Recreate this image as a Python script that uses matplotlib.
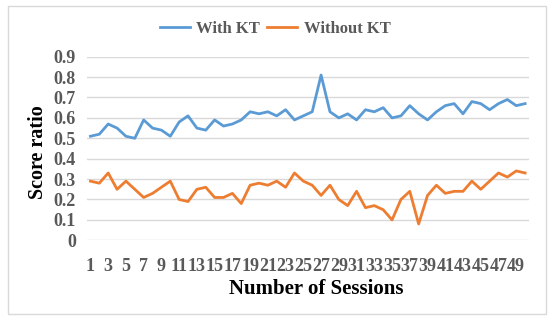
import matplotlib
matplotlib.use("Agg")
import matplotlib.pyplot as plt
from matplotlib.patches import Rectangle

sessions = list(range(1, 51))
with_kt = [0.51, 0.52, 0.57, 0.55, 0.51, 0.50, 0.59, 0.55, 0.54, 0.51,
           0.58, 0.61, 0.55, 0.54, 0.59, 0.56, 0.57, 0.59, 0.63, 0.62,
           0.63, 0.61, 0.64, 0.59, 0.61, 0.63, 0.81, 0.63, 0.60, 0.62,
           0.59, 0.64, 0.63, 0.65, 0.60, 0.61, 0.66, 0.62, 0.59, 0.63,
           0.66, 0.67, 0.62, 0.68, 0.67, 0.64, 0.67, 0.69, 0.66, 0.67]
without_kt = [0.29, 0.28, 0.33, 0.25, 0.29, 0.25, 0.21, 0.23, 0.26, 0.29,
              0.20, 0.19, 0.25, 0.26, 0.21, 0.21, 0.23, 0.18, 0.27, 0.28,
              0.27, 0.29, 0.26, 0.33, 0.29, 0.27, 0.22, 0.27, 0.20, 0.17,
              0.24, 0.16, 0.17, 0.15, 0.10, 0.20, 0.24, 0.08, 0.22, 0.27,
              0.23, 0.24, 0.24, 0.29, 0.25, 0.29, 0.33, 0.31, 0.34, 0.33]
series_names = ["With KT", "Without KT"]
xtick_labels = [str(s) for s in sessions if s % 2 == 1]
yticks = [0, 0.1, 0.2, 0.3, 0.4, 0.5, 0.6, 0.7, 0.8, 0.9]

plt.rcParams['font.family'] = ['Liberation Serif', 'DejaVu Serif']
txt = '#595959'

fig = plt.figure(figsize=(5.5, 3.21), dpi=100)
ax = fig.add_axes([0.158, 0.2514, 0.804, 0.572])

ax.plot(sessions, with_kt, color='#5B9BD5', lw=2.0, label=series_names[0])
ax.plot(sessions, without_kt, color='#ED7D31', lw=2.0, label=series_names[1])

ax.set_xlim(0.6, 50.45)
ax.set_ylim(0, 0.9)
ax.set_yticks(yticks)
ax.set_yticklabels(['0' if v == 0 else f'{v:.1f}' for v in yticks])
ax.set_xticks([s for s in sessions if s % 2 == 1])
ax.set_xticklabels(xtick_labels)
ax.grid(axis='y', color='#d9d9d9', lw=1.0)
ax.set_axisbelow(True)
for sp in ax.spines.values():
    sp.set_visible(False)
ax.tick_params(length=0, labelsize=13, labelcolor=txt)
ax.tick_params(axis='y', pad=8)
ax.tick_params(axis='x', pad=13)
for lab in ax.get_xticklabels() + ax.get_yticklabels():
    lab.set_fontweight('bold')

ax.set_xlabel('Number of Sessions', fontsize=15, fontweight='bold', color='black', va='center')
ax.xaxis.set_label_coords(0.518, -0.266)
ax.set_ylabel('Score ratio', fontsize=14.5, fontweight='bold', color='black', va='center')
ax.yaxis.set_label_coords(-0.11, 0.478)

leg = ax.legend(loc='center', bbox_to_anchor=(0.5, 0.91), bbox_transform=fig.transFigure,
                ncol=2, frameon=False, prop={'weight': 'bold', 'size': 12},
                handlelength=1.8, columnspacing=0.4, handletextpad=0.4)
for t in leg.get_texts():
    t.set_color(txt)

fig.patches.append(Rectangle((8/550, 1 - 314/321), 538/550, 308.3/321, transform=fig.transFigure,
                             fill=False, edgecolor='#d9d9d9', lw=1.0))

fig.savefig('out.png', dpi=100)
